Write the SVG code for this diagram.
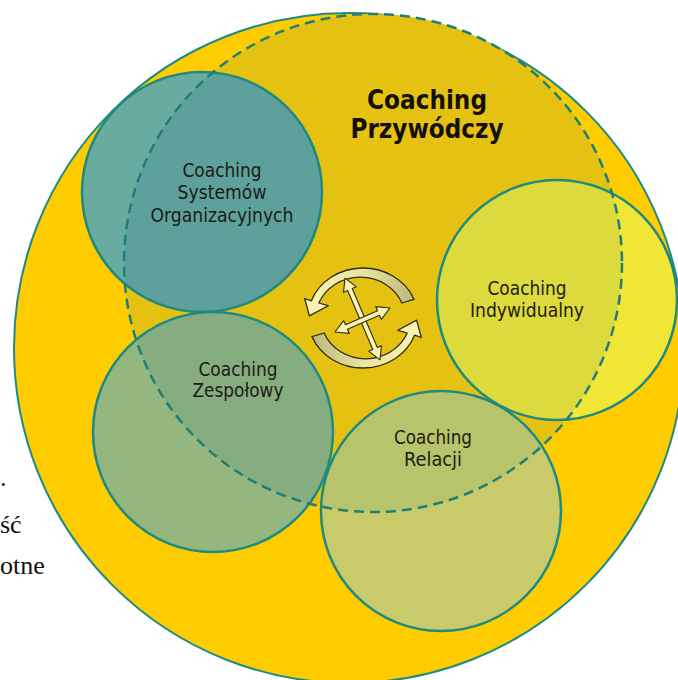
<svg xmlns="http://www.w3.org/2000/svg" width="678" height="680" viewBox="0 0 678 680">
<style>
.ring{stroke:#1f8a80;stroke-width:2.5;fill:none}
.lbl{font-family:"DejaVu Sans Condensed","DejaVu Sans",sans-serif;font-size:19px;fill:#1c1c14;text-anchor:middle}
.ttl{font-family:"DejaVu Sans Condensed","DejaVu Sans",sans-serif;font-size:26px;font-weight:bold;fill:#141008;text-anchor:middle}
.side{font-family:"Liberation Serif","Times New Roman",serif;font-size:26px;fill:#111}
.carr{stroke:#2e2a18;stroke-width:1.3;stroke-linejoin:round}
.darr{fill:#f8f3ae;stroke:#2e2a18;stroke-width:1.1;stroke-linejoin:round}
</style>
<defs>
<clipPath id="inner"><circle cx="373" cy="263" r="249"/></clipPath>
<linearGradient id="cg" x1="1" y1="0" x2="0" y2="0">
<stop offset="0" stop-color="#bcb77c"/>
<stop offset="0.45" stop-color="#e9e39c"/>
<stop offset="1" stop-color="#faf5b0"/>
</linearGradient>
</defs>
<rect width="678" height="680" fill="#ffffff"/>
<g id="side-text">
<text class="side" x="0" y="486">.</text>
<text class="side" x="0" y="533">ść</text>
<text class="side" x="0" y="574">otne</text>
</g>
<g id="outer">
<ellipse cx="349" cy="348" rx="335" ry="335" fill="#ffcc00" stroke="#1f8a80" stroke-width="2"/>
</g>
<g id="przywodczy-area">
<circle cx="373" cy="263" r="249" fill="#e5c212"/>
</g>
<g id="systemow">
<circle cx="202" cy="192" r="120" fill="#68aba0"/>
<circle cx="202" cy="192" r="120" fill="#5ea19c" clip-path="url(#inner)"/>
<circle class="ring" cx="202" cy="192" r="120"/>
<text class="lbl" x="222" y="177" textLength="79" lengthAdjust="spacingAndGlyphs">Coaching</text>
<text class="lbl" x="222" y="199" textLength="89" lengthAdjust="spacingAndGlyphs">Systemów</text>
<text class="lbl" x="222" y="222" textLength="143" lengthAdjust="spacingAndGlyphs">Organizacyjnych</text>
</g>
<g id="zespolowy">
<circle cx="213" cy="432" r="120" fill="#94b67f"/>
<circle cx="213" cy="432" r="120" fill="#86ad80" clip-path="url(#inner)"/>
<circle class="ring" cx="213" cy="432" r="120"/>
<text class="lbl" x="238" y="376" textLength="79" lengthAdjust="spacingAndGlyphs">Coaching</text>
<text class="lbl" x="238" y="397" textLength="91" lengthAdjust="spacingAndGlyphs">Zespołowy</text>
</g>
<g id="indywidualny">
<circle cx="557" cy="300" r="120" fill="#f1e635"/>
<circle cx="557" cy="300" r="120" fill="#dcda3c" clip-path="url(#inner)"/>
<circle class="ring" cx="557" cy="300" r="120"/>
<text class="lbl" x="527" y="295" textLength="79" lengthAdjust="spacingAndGlyphs">Coaching</text>
<text class="lbl" x="527" y="317" textLength="114" lengthAdjust="spacingAndGlyphs">Indywidualny</text>
</g>
<g id="relacji">
<circle cx="441" cy="511" r="120" fill="#c9cb6b"/>
<circle cx="441" cy="511" r="120" fill="#b8c46b" clip-path="url(#inner)"/>
<circle class="ring" cx="441" cy="511" r="120"/>
<text class="lbl" x="433" y="444" textLength="78" lengthAdjust="spacingAndGlyphs">Coaching</text>
<text class="lbl" x="433" y="466" textLength="58" lengthAdjust="spacingAndGlyphs">Relacji</text>
</g>
<g id="przywodczy">
<circle cx="373" cy="263" r="249" fill="none" stroke="#1f7f78" stroke-width="2.5" stroke-dasharray="10 6"/>
<text class="ttl" x="427" y="109" textLength="120" lengthAdjust="spacingAndGlyphs">Coaching</text>
<text class="ttl" x="427" y="138" textLength="153" lengthAdjust="spacingAndGlyphs">Przywódczy</text>
</g>
<g id="connectors">
<g transform="translate(363,318)">
<path class="carr" fill="url(#cg)" d="M51,-18.7 A55 50 0 0 0 -51.7,-17.1 L-58.3,-19.5 L-53.6,-2.1 L-34.8,-12.3 L-44.2,-15 A45 42 0 0 1 38.9,-15 Z"/>
<path class="carr" fill="url(#cg)" transform="rotate(180)" d="M51,-18.7 A55 50 0 0 0 -51.7,-17.1 L-58.3,-19.5 L-53.6,-2.1 L-34.8,-12.3 L-44.2,-15 A45 42 0 0 1 38.9,-15 Z"/>
</g>
<polygon class="darr" transform="translate(362.5,319) rotate(66.9)" points="-44.5,0 -32,-7 -32,-2.5 32,-2.5 32,-7 44.5,0 32,7 32,2.5 -32,2.5 -32,7"/>
<polygon class="darr" transform="translate(362.5,320) rotate(-23.6)" points="-30,0 -17.5,-7 -17.5,-2.5 17.5,-2.5 17.5,-7 30,0 17.5,7 17.5,2.5 -17.5,2.5 -17.5,7"/>
</g>
</svg>
